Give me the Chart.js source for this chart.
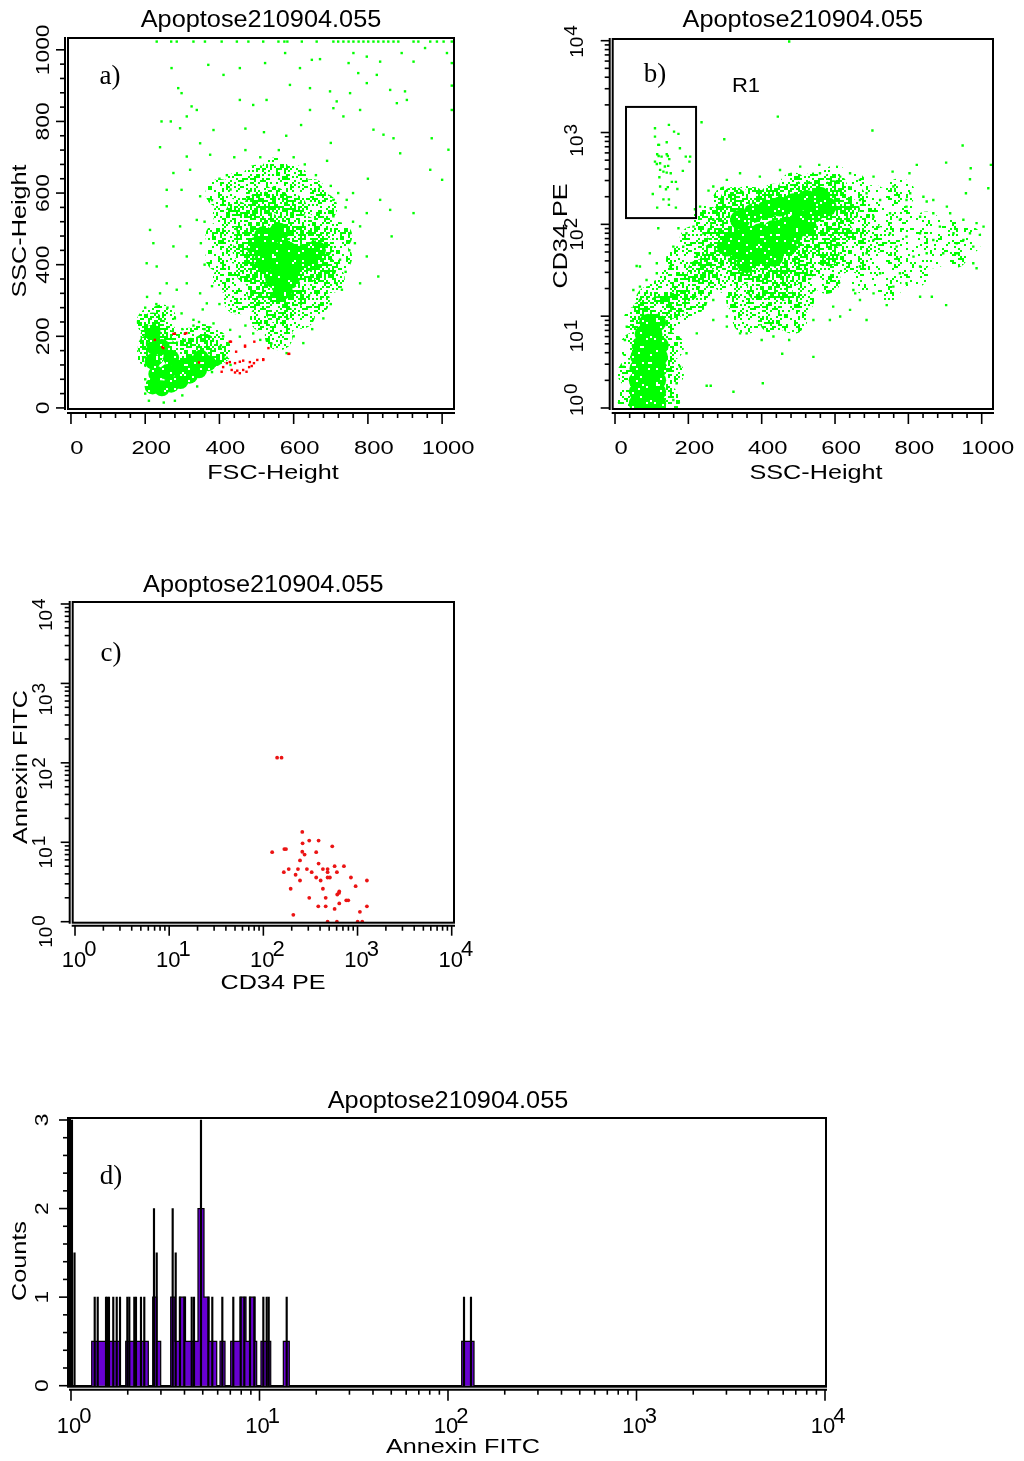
<!DOCTYPE html>
<html><head><meta charset="utf-8">
<script src="https://cdn.jsdelivr.net/npm/chart.js@4.4.0/dist/chart.umd.min.js"></script>
<style>
html,body{margin:0;padding:0;background:#fff;}
body{width:1024px;height:1461px;position:relative;overflow:hidden;}
canvas{position:absolute;}
</style></head><body>
<canvas id="ca" width="512" height="500" style="left:0;top:0"></canvas>
<canvas id="cb" width="512" height="500" style="left:512px;top:0"></canvas>
<canvas id="cc" width="512" height="470" style="left:0;top:560px"></canvas>
<canvas id="cd" width="1024" height="371" style="left:0;top:1090px"></canvas>
<script>
// ---------------- text / labels ----------------
const TITLE = 'Apoptose210904.055';
const linLabels = [0, 200, 400, 600, 800, 1000];
const logExps = [0, 1, 2, 3, 4];
const countLabels = [0, 1, 2, 3];
const gateX = [30, 221];      // R1 gate, SSC-Height
const gateY = [117, 1900];    // R1 gate, CD34 PE

// ---------------- panel a : FSC-Height vs SSC-Height ----------------
// density zones of the event cloud (outer / inner / core)
const aHalo = [[400,600],[450,620],[500,640],[550,660],[600,640],[650,600],[420,540],[470,560],[520,580],[570,590],[620,570],[680,560],[400,480],[450,500],[500,520],[560,520],[620,500],[680,500],[720,480],[400,420],[450,440],[500,450],[560,450],[620,440],[680,430],[720,420],[420,360],[470,380],[520,380],[580,380],[640,370],[700,360],[450,300],[500,310],[550,300],[610,300],[660,300],[520,250],[570,240],[620,260],[560,200],
  [215,240],[245,250],[225,200],[255,195],[215,150],[290,170],[320,185],[355,195],[385,180],[395,160]];
const aInner = [[450,540],[500,560],[550,580],[600,560],[480,500],[530,510],[580,510],[630,500],[470,440],[520,450],[570,450],[620,450],[670,450],[480,380],[530,380],[580,380],[630,380],[680,390],[510,320],[560,320],[610,320],[560,270],
  [220,230],[240,200],[215,170],[280,150],[320,160],[360,170],[380,150]];
const aCore = [[520,480],[560,490],[540,440],[580,440],[620,430],[520,410],[560,400],[600,400],[640,410],[550,360],[590,360],[570,330],[500,450],[660,440]];
const aCoreLow = [[220,60],[245,55],[270,65],[295,75],[320,90],[345,105],[370,125],[230,95],[260,100],[290,110],[320,125],[350,140],[220,130],[225,170],[220,210],[245,170],[270,140]];
const aSparse = [[231,1023],[270,1023],[285,1023],[330,1023],[361,1023],[406,1023],[447,1023],[478,1023],[518,1023],[559,1023],[575,1023],[583,1023],[622,1023],[662,1023],[707,1023],[720,1023],[734,1023],[748,1023],[761,1023],[775,1023],[788,1023],[801,1023],[815,1023],[828,1023],[842,1023],[855,1023],[869,1023],[882,1023],[923,1023],[936,1023],[968,1023],[986,1023],[1004,1023],[1026,1023],
  [370,958],[455,949],[523,963],[577,991],[649,972],[671,974],[748,963],[761,991],[797,981],[833,967],[891,991],[923,967],[954,1005],[1013,991],[411,930],[271,949],[289,893],[298,879],[325,842],[339,832],[312,814],[244,800],[269,800],[294,781],[455,860],[491,846],[527,860],[590,902],[617,949],[644,893],[698,884],[716,856],[752,879],[774,935],[797,907],[824,930],[860,888],[878,851],[900,884],[905,860],[644,832],[707,837],[734,814],[779,832],[815,777],[842,763],[869,753],[887,711],[968,665],[1017,721],[972,753],[1000,637],[923,544],[860,553],[833,581],[797,544],[779,507],[765,460],[797,423],[828,367],[864,479],[752,488],[725,414],[716,348],[779,348],[707,535],[671,618],[707,581],[743,581],[384,776],[348,739],[375,707],[312,702],[276,656],[240,728],[258,609],[213,497],[222,460],[204,404],[231,395],[258,563],[294,507],[276,451],[312,423],[339,525],[348,591],[321,665],[298,609],[240,320],[258,348],[285,330],[312,348],[348,320],[366,292],[298,264],[276,283],[330,246],[402,171],[626,181],[581,153],[491,208],[455,199],[429,218],[384,236],[1026,963],[1026,832],[1026,900],
  [420,650],[440,700],[470,720],[510,700],[560,720],[600,700],[630,680],[660,650],[700,620],[720,600],[740,560],[760,520],[750,440],[740,380],[730,330],[700,290],[680,250],[650,220],[600,200],[540,180],[510,190],[470,230],[440,270],[400,290],[380,340],[360,400],[350,460],[360,520],[380,580],[400,640],[430,610],[690,690],[580,760],[520,770],[470,780],[620,790],[700,740],[800,640],[760,600],[345,240],[355,275],
  [200,280],[205,310],[230,290],[260,280],[280,250],[300,220],[330,230],[360,220],[410,200],[420,140],[430,120],[200,40],[210,20],[250,15],[280,20],[300,35],[340,60],[380,100],[205,230],[205,180],[200,120],[200,80]];
const aRed = [[226,190],[276,207],[246,170],[307,207],[345,127],[431,185],[469,174],[494,185],[428,128],[420,125],[442,125],[455,129],[464,132],[482,128],[493,125],[502,134],[518,134],[410,114],[406,101],[433,106],[442,99],[448,104],[455,97],[464,106],[473,101],[480,114],[487,117],[586,151],[249,167],[280,207],[311,209],[428,185],[445,157],[469,171],[532,167],[588,151],[518,136]];

// ---------------- panel b : SSC-Height vs CD34 PE ----------------
const bHalo = [[486,258],[541,258],[595,258],
  [305,184],[359,184],[432,184],[486,184],[541,184],[595,184],[650,184],
  [250,112],[305,112],[359,112],[414,112],[468,112],[523,112],[577,112],[632,112],[686,112],
  [214,67.6],[268,67.6],[323,67.6],[377,67.6],[432,67.6],[486,67.6],[541,67.6],[595,67.6],[650,67.6],[705,67.6],
  [177,40.9],[232,40.9],[286,40.9],[341,40.9],[395,40.9],[450,40.9],[505,40.9],[559,40.9],[614,40.9],[668,40.9],
  [159,24.8],[214,24.8],[305,24.8],[359,24.8],[414,24.8],[468,24.8],[523,24.8],[577,24.8],
  [141,15],[195,15],[341,15],[395,15],[450,15],[505,15],
  [359,9.1],[432,9.1],[486,9.1],
  [45,1.22],[45,2.39],[52,4.66],[62,9.1],[105,12.7],[140,9.1],[150,4.66],[150,2.39],[140,1.22],[95,15],[123,17.7],
  [177,11.7],[214,15],[232,21],[195,29.3],[159,21],[268,29.3]];
const bHaloLight = [[741,132],[795,112],[850,94.5],[905,80],[959,67.6],[759,67.6],[814,57.2],[868,48.4],[923,48.4],[705,40.9],[759,34.7],[814,29.3],[686,24.8],[741,21],[705,184],[777,218],[650,250],[600,300]];
const bInner = [[323,184],[377,184],[432,200],[486,218],[541,218],[595,218],[305,132],[359,132],[414,132],[468,132],[523,144],[577,144],[632,144],[286,80],[341,80],[395,80],[450,80],[505,80],[559,80],[614,80],[305,48],[359,48],[414,48],[468,48],[523,48],[577,48],[341,30],[395,30],[450,30],[505,30],[395,20],[450,20],
  [195,20],[232,30],[268,45],[159,13],[120,12],[80,11]];
const bCore = [[341,112],[377,132],[414,144],[450,156],[486,170],[523,184],[559,200],[577,156],[541,132],[505,112],[468,94.5],[432,87],[395,80],[359,73.5],[323,67.6],[341,52.6],[377,57.2],[414,57.2],[450,67.6],[486,80],[523,94.5],[386,44.5],[432,44.5],[305,57.2],[359,37.7],[468,57.2]];
const bCoreLow = [[62,1.12],[90,1.12],[115,1.12],[62,1.5],[90,1.5],[115,1.5],[62,2.0],[90,2.0],[115,2.0],[64,2.7],[92,2.7],[118,2.7],[66,3.6],[94,3.6],[120,3.6],[70,4.8],[98,4.8],[122,4.8],[78,6.4],[105,6.4],[90,8.5],[115,8.5]];
const bSparse = [[109,1114],[147,1211],[161,1023],[173,966],[109,903],[118,733],[120,733],[141,783],[177,675],[115,580],[119,556],[141,580],[144,556],[127,547],[193,547],[205,547],[148,513],[109,482],[114,455],[123,462],[203,482],[136,426],[145,433],[123,392],[132,375],[141,366],[152,360],[185,382],[121,326],[155,290],[166,290],[139,241],[144,254],[170,243],[123,258],[103,214],[132,187],[147,187],[115,152],[147,163],[166,152],
  [236,1294],[255,233],[218,146],[261,150],
  [475,9800],[444,1490],[298,845],[702,1050],[948,721],[903,470],[823,444],[970,408],[1025,444],[557,444],[757,375],[803,360],[968,310],[1018,247],[957,218],[850,177],[795,156],[914,132],[1005,94.5],[995,76.7],[977,37.7],[986,33.2],[903,13.2],[864,16.3],[832,16.3],[741,13.2],[686,9.1],[655,17.7],[541,3.6],[456,3.9],[475,5.5],[400,5.5],[403,1.86],[323,1.5],[250,1.75],[261,1.75],[305,7.7],[341,6.5],[59,35.2],[114,37.7],[68,21],[118,90.6],[173,90.6],[123,6.2],
  [795,184],[841,200],[868,132],[886,94.5],[923,80],[950,67.6],[977,57.2],[932,48.4],[895,48.4],[868,67.6],[832,80],[795,73.5],[768,57.2],[750,80],[705,67.6],[686,48.4],[668,34.7],[723,29.3],[777,29.3],[832,34.7],[795,22.8],[759,21],[705,17.7],[668,15],[641,11.7],[614,9.9],[586,9.1],[814,44.5],[850,48.4],[932,62],[968,80],[986,103],[950,112],[905,156],[868,184],[832,121],[777,112],[750,132],[705,121],[723,184],[686,218],[668,305],[641,360],[705,331],[759,258],[805,218],
  [268,258],[305,305],[341,360],[395,331],[450,391],[505,425],[559,360],[614,331],[668,184],[232,156],[214,94.5],[186,57.2],[250,67.6],[268,15],[305,9.9],[359,6.5],[432,6.0],[505,7.1],[541,9.1],[595,12.7],[650,19.3],[268,9.1],[223,6.5],[195,3.94],[177,2.82],[168,1.86],[159,1.22],[23,2.82],[27,5.5],[32,7.7],[68,15],[50,19.3],[86,24.8],[114,29.3],[150,34.7],[95,48.4],[68,34.7],[159,57.2],[195,80],[223,48.4],[241,80],[268,112]];

// ---------------- panel c : CD34 PE vs Annexin FITC (R1 events) ----------------
const cRed = [[259,13.5],[261,9.7],[307,10.5],[386,10.5],[124,7.5],[167,8.2],[174,8.2],[259,7.6],[274,7.0],[364,7.5],[539,8.9],[245,5.9],[386,5.4],[165,4.2],[186,4.6],[220,3.9],[233,4.6],[245,3.3],[290,4.6],[326,4.2],[364,3.6],[406,3.3],[429,4.6],[481,4.6],[481,4.2],[481,3.6],[509,3.6],[571,5.0],[604,4.2],[717,5.0],[851,3.6],[1258,3.3],[195,2.6],[429,2.6],[955,2.8],[609,2.2],[635,2.3],[640,2.4],[307,2.0],[459,2.0],[759,1.86],[797,1.86],[383,1.56],[459,1.56],[571,1.45],[640,1.7],[1060,1.33],[1258,1.56],[208,1.22],[481,1.0],[604,1.0],[1003,1.0],[1122,1.0],[140,116],[156,116]];

// ---------------- panel d : Annexin FITC histogram ----------------
const dSpikes = [[1.012,3],[1.044,1.5],[1.336,1],[1.386,1],[1.534,1],[1.558,1],[1.590,1],[1.676,1],[1.748,1],[1.820,1],[1.990,1],[2.039,1],[2.167,1],[2.212,1],[2.351,1],[2.448,1],[2.756,2],[2.849,1.5],[3.463,2],[3.593,1.5],[3.786,1],[3.991,1],[4.369,1],[4.493,1],[4.893,3],[5.351,1],[5.618,1],[6.350,1],[7.261,1],[7.950,1],[8.307,1],[8.906,1],[9.385,1],[10.48,1],[10.92,1],[11.19,1],[13.94,1],[121.6,1],[132.4,1]];
const dSteps = [[1,0],[1.288,0.5],[1.820,0],[1.951,0.5],[2.571,0],[2.713,1],[2.849,0.5],[2.991,0],[3.380,1],[3.563,0.5],[3.763,1],[4.050,0.5],[4.718,2],[5.077,1],[5.397,0.5],[5.930,0],[6.173,0.5],[6.561,0],[7.035,0.5],[7.882,1],[8.481,0.5],[8.851,1],[9.465,0.5],[9.663,0],[10.18,0.5],[11.47,0],[13.38,0.5],[14.39,0],[118.2,0.5],[137.4,0],[10000,0]];

// ---------------- helpers ----------------
const SANS = '"Liberation Sans", Arimo, Arial, sans-serif';
const SERIF = '"Liberation Serif", "Times New Roman", serif';
const GREEN = '#00ff00';
// deterministic dot texture used to paint density zones (style only)
function hash(i, j) {
  let n = (Math.imul(i, 374761393) + Math.imul(j, 668265263)) | 0;
  n = Math.imul(n ^ (n >>> 13), 1274126177);
  n = n ^ (n >>> 16);
  return ((n >>> 0) % 1000) / 1000;
}
function speckle(density, color) {
  const t = document.createElement('canvas'); t.width = t.height = 64;
  const g = t.getContext('2d'); g.fillStyle = color;
  for (let j = 0; j < 32; j++) for (let i = 0; i < 32; i++) if (hash(i, j) < density) g.fillRect(i * 2, j * 2, 2, 2);
  return g.createPattern(t, 'repeat');
}
function T(ctx, s, x, y, size, o) {
  o = o || {};
  ctx.save(); ctx.translate(x, y); if (o.rot) ctx.rotate(o.rot); ctx.scale(o.sx || 1, 1);
  ctx.font = size + 'px ' + (o.serif ? SERIF : SANS);
  ctx.fillStyle = '#000'; ctx.textAlign = o.align || 'center'; ctx.textBaseline = o.base || 'middle';
  ctx.fillText(s, 0, 0); ctx.restore();
}
function linTicks() { const a = []; for (let v = 0; v <= 1000; v += 40) a.push(v); return a; }
function logTicks() { const a = []; for (let d = 0; d < 4; d++) for (let m = 1; m < 10; m++) a.push(m * Math.pow(10, d)); a.push(1e4); return a; }
function countTicks() { const a = []; for (let i = 0; i <= 15; i++) a.push(i / 5); return a; }
function isDecade(v) { const l = Math.log10(v); return Math.abs(l - Math.round(l)) < 1e-9; }
function isInt(v) { return Math.abs(v - Math.round(v)) < 1e-6; }
function frame(chart) {
  const c = chart.ctx, ca = chart.chartArea;
  c.save(); c.strokeStyle = '#000'; c.lineWidth = 2;
  c.strokeRect(ca.left, ca.top, ca.right - ca.left, ca.bottom - ca.top); c.restore();
}
function xAxis(chart, vals, major, gap, ML, mL) {
  const c = chart.ctx, ca = chart.chartArea, s = chart.scales.x, y0 = ca.bottom + gap;
  c.save(); c.strokeStyle = '#000'; c.lineWidth = 2;
  c.beginPath(); c.moveTo(ca.left - 1, y0); c.lineTo(ca.right + 1, y0); c.stroke();
  c.lineWidth = 1.6;
  for (const v of vals) { const x = s.getPixelForValue(v); c.beginPath(); c.moveTo(x, y0); c.lineTo(x, y0 + (major(v) ? ML : mL)); c.stroke(); }
  c.restore();
}
function yAxis(chart, vals, major, gap, ML, mL) {
  const c = chart.ctx, ca = chart.chartArea, s = chart.scales.y, x0 = ca.left - gap;
  c.save(); c.strokeStyle = '#000'; c.lineWidth = 2;
  c.beginPath(); c.moveTo(x0, ca.top - 1); c.lineTo(x0, ca.bottom + 1); c.stroke();
  c.lineWidth = 1.6;
  for (const v of vals) { const y = s.getPixelForValue(v); c.beginPath(); c.moveTo(x0, y); c.lineTo(x0 - (major(v) ? ML : mL), y); c.stroke(); }
  c.restore();
}
function logXLabel(ctx, x, yBase, e, size, raise) {
  ctx.save(); ctx.font = size + 'px ' + SANS; const w = ctx.measureText('10').width;
  ctx.fillStyle = '#000'; ctx.textBaseline = 'alphabetic'; ctx.textAlign = 'left';
  ctx.fillText('10', x - w / 2, yBase); ctx.fillText(String(e), x + w / 2 - 2, yBase - raise); ctx.restore();
}
function logYLabel(ctx, cx, ty, e, size, off, expShift) {
  ctx.save(); ctx.translate(cx, ty); ctx.rotate(-Math.PI / 2); ctx.font = size + 'px ' + SANS;
  ctx.fillStyle = '#000'; ctx.textBaseline = 'middle'; ctx.textAlign = 'right';
  ctx.fillText('10', -off, 0); ctx.textAlign = 'left'; ctx.fillText(String(e), -off + 1, -expShift); ctx.restore();
}
function pts(arr) { return arr.map(p => ({ x: p[0], y: p[1] })); }
function ds(arr, color, radius, style) {
  return { data: pts(arr), backgroundColor: color, borderWidth: 0, pointBorderWidth: 0, pointRadius: radius, pointHoverRadius: radius, pointStyle: style || 'circle', clip: 0 };
}
function lin(min, max) { return { type: 'linear', display: false, min, max, bounds: 'data' }; }
function lg(min, max) { return { type: 'logarithmic', display: false, min, max, bounds: 'data' }; }
function makeChart(id, type, datasets, xs, ys, pad, decor) {
  return new Chart(document.getElementById(id), {
    type, data: { datasets },
    options: { responsive: false, animation: false, events: [], layout: { padding: pad },
      plugins: { legend: { display: false }, tooltip: { enabled: false } }, scales: { x: xs, y: ys } },
    plugins: [{ id: 'decor_' + id, afterDraw: decor }]
  });
}
const P_LIGHT = speckle(0.16, GREEN), P_OUT = speckle(0.32, GREEN), P_IN = speckle(0.58, GREEN), P_CORE = speckle(0.94, GREEN);

// ---------------- panel a ----------------
makeChart('ca', 'scatter', [
  ds(aRed, '#ff0000', 1.7, 'rect'),
  ds(aSparse, GREEN, 1.7, 'rect'),
  ds(aCore, P_CORE, 10),
  ds(aCoreLow, P_CORE, 8),
  ds(aInner, P_IN, 13),
  ds(aHalo, P_OUT, 14)
], lin(-8, 1032), lin(-3, 1033), { left: 68, top: 38, right: 58, bottom: 91 }, function (chart) {
  const c = chart.ctx, ca = chart.chartArea, sx = chart.scales.x, sy = chart.scales.y;
  frame(chart);
  xAxis(chart, linTicks(), v => v % 200 === 0, 4, 11, 5);
  yAxis(chart, linTicks(), v => v % 200 === 0, 3, 9, 5);
  linLabels.forEach(v => {
    T(c, String(v), sx.getPixelForValue(v) + 6, 449, 19, { sx: 1.25 });
    T(c, String(v), 44, sy.getPixelForValue(v), 19, { rot: -Math.PI / 2, sx: 1.2 });
  });
  T(c, TITLE, (ca.left + ca.right) / 2, 21, 23, { sx: 1.1 });
  T(c, 'FSC-Height', 273, 473, 21, { sx: 1.2 });
  T(c, 'SSC-Height', 20, 231, 21, { rot: -Math.PI / 2, sx: 1.2 });
  T(c, 'a)', 110, 77, 27, { serif: true });
});

// ---------------- panel b ----------------
makeChart('cb', 'scatter', [
  ds(bSparse, GREEN, 1.7, 'rect'),
  ds(bCore, P_CORE, 10),
  ds(bCoreLow, P_CORE, 9),
  ds(bInner, P_IN, 13),
  ds(bHalo, P_OUT, 14),
  ds(bHaloLight, P_LIGHT, 15)
], lin(-6.3, 1030.8), lg(0.975, 10435), { left: 100.7, top: 39, right: 31, bottom: 91 }, function (chart) {
  const c = chart.ctx, ca = chart.chartArea, sx = chart.scales.x, sy = chart.scales.y;
  frame(chart);
  xAxis(chart, linTicks(), v => v % 200 === 0, 4, 11, 5);
  yAxis(chart, logTicks(), isDecade, 3, 9, 5);
  linLabels.forEach(v => T(c, String(v), sx.getPixelForValue(v) + 6, 449, 19, { sx: 1.25 }));
  const offB = [-13, 15, 5, 3, -4];
  logExps.forEach((e, i) => logYLabel(c, 66, sy.getPixelForValue(Math.pow(10, e)), e, 19, offB[i], 6));
  T(c, TITLE, (ca.left + ca.right) / 2, 21, 23, { sx: 1.1 });
  T(c, 'SSC-Height', 304, 473, 21, { sx: 1.2 });
  T(c, 'CD34 PE', 49, 236, 21, { rot: -Math.PI / 2, sx: 1.2 });
  T(c, 'b)', 143, 75, 27, { serif: true });
  T(c, 'R1', 234, 86, 20, { sx: 1.1 });
  const x1 = sx.getPixelForValue(gateX[0]), x2 = sx.getPixelForValue(gateX[1]);
  const y1 = sy.getPixelForValue(gateY[1]), y2 = sy.getPixelForValue(gateY[0]);
  c.save(); c.strokeStyle = '#000'; c.lineWidth = 2; c.strokeRect(x1, y1, x2 - x1, y2 - y1); c.restore();
});

// ---------------- panel c ----------------
makeChart('cc', 'scatter', [
  ds(cRed, 'rgb(235,20,20)', 1.9)
], lg(0.945, 10578), lg(0.9714, 10593), { left: 72.7, top: 42, right: 58, bottom: 107.3 }, function (chart) {
  const c = chart.ctx, ca = chart.chartArea, sx = chart.scales.x, sy = chart.scales.y;
  frame(chart);
  xAxis(chart, logTicks(), isDecade, 3, 10, 5);
  yAxis(chart, logTicks(), isDecade, 3, 9, 5);
  logExps.forEach(e => logXLabel(c, sx.getPixelForValue(Math.pow(10, e)) - 1, 406.7, e, 22, 11));
  const offC = [5, 5, 6, 11, 6];
  logExps.forEach((e, i) => logYLabel(c, 47, sy.getPixelForValue(Math.pow(10, e)), e, 19, offC[i], 7));
  T(c, TITLE, (ca.left + ca.right) / 2, 26, 23, { sx: 1.1 });
  T(c, 'CD34 PE', 273, 423, 21, { sx: 1.2 });
  T(c, 'Annexin FITC', 21, 207, 21, { rot: -Math.PI / 2, sx: 1.2 });
  T(c, 'c)', 111, 94, 27, { serif: true });
});

// ---------------- panel d ----------------
makeChart('cd', 'bar', [
  { type: 'bar', data: pts(dSpikes), backgroundColor: '#000', borderWidth: 0, barThickness: 1.5, grouped: false, order: 0 },
  { type: 'line', data: pts(dSteps), stepped: 'before', fill: 'origin', backgroundColor: 'rgb(104,0,210)', borderColor: '#000', borderWidth: 1.2, pointRadius: 0, tension: 0, order: 1 }
], lg(0.9879, 10123), lin(-0.0113, 3.0226), { left: 70, top: 28, right: 198, bottom: 74.3 }, function (chart) {
  const c = chart.ctx, ca = chart.chartArea, sx = chart.scales.x, sy = chart.scales.y;
  frame(chart);
  xAxis(chart, logTicks(), isDecade, 3, 11, 5);
  yAxis(chart, countTicks(), isInt, 2, 9, 5);
  logExps.forEach(e => logXLabel(c, sx.getPixelForValue(Math.pow(10, e)) - 2, 343, e, 22, 10));
  countLabels.forEach(v => T(c, String(v), 43, sy.getPixelForValue(v), 19, { rot: -Math.PI / 2, sx: 1.2 }));
  T(c, TITLE, (ca.left + ca.right) / 2, 11.5, 23, { sx: 1.1 });
  T(c, 'Annexin FITC', 463, 357, 21, { sx: 1.2 });
  T(c, 'Counts', 20, 171, 21, { rot: -Math.PI / 2, sx: 1.2 });
  T(c, 'd)', 111, 87, 27, { serif: true });
});
</script>
</body></html>
